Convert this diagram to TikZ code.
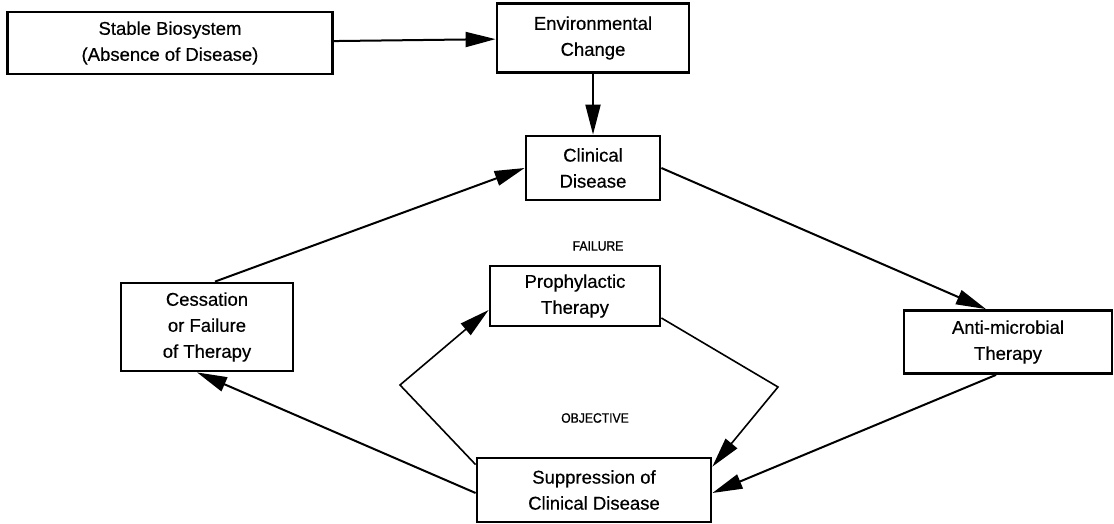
\documentclass[tikz,border=0pt]{standalone}
\usepackage{fontspec}
\setmainfont{Liberation Sans}[FakeBold=0.5]
\newfontfamily\labfont{Liberation Sans}[FakeStretch=0.9, FakeBold=0.9]
\usetikzlibrary{arrows.meta}
\tikzset{box/.style={draw, line width=2.8pt, align=center, inner sep=0pt, font=\fontsize{18.5}{26}\selectfont},
  lab/.style={draw=none, fill=none, font=\labfont\fontsize{13.5}{15}\selectfont},
  arr/.style={line width=2pt, -{Triangle[length=30pt, width=15pt]}}}

\begin{document}
\begin{tikzpicture}[x=1pt, y=-1pt]
  \useasboundingbox (0,0) rectangle (1114,524);

  \node (stable) [box, minimum width=325pt, minimum height=62pt] at (170, 43) {Stable Biosystem\\(Absence of Disease)};
  \node (env) [box, minimum width=192pt, minimum height=69pt] at (593, 38) {Environmental\\Change};
  \node (clin) [box, minimum width=134pt, minimum height=64pt] at (593, 168) {Clinical\\Disease};
  \node (cess) [box, minimum width=172pt, minimum height=88pt] at (207, 327) {Cessation\\or Failure\\of Therapy};
  \node (proph) [box, minimum width=170pt, minimum height=60pt] at (575, 296) {Prophylactic\\Therapy};
  \node (anti) [box, minimum width=208pt, minimum height=63pt] at (1008, 342) {Anti-microbial\\Therapy};
  \node (supp) [box, minimum width=234pt, minimum height=64pt] at (594, 490) {Suppression of\\Clinical Disease};

  \node (fail) [lab] at (598, 246) {FAILURE};
  \node (obj) [lab] at (595, 418) {OBJECTIVE};

  \coordinate (lbend) at (400, 385);
  \coordinate (rbend) at (778, 387);

  \draw (stable) edge [arr] (env);
  \draw (env) edge [arr] (clin);
  \draw ([xshift=8pt]cess.north) edge [arr] (clin.west);
  \draw (clin.east) edge [arr] ([xshift=-22pt]anti.north);
  \draw ([xshift=-12pt]anti.south) edge [arr] ([yshift=-3pt]supp.east);
  \draw ([yshift=-3pt]supp.west) edge [arr] ([xshift=-10pt]cess.south);
  \draw [line width=1.6pt, -{Triangle[length=30pt, width=15pt]}] ([yshift=-8pt]supp.north west) -- (lbend) -- ([yshift=-14pt]proph.west);
  \draw [line width=1.6pt, -{Triangle[length=30pt, width=15pt]}] ([yshift=-22pt]proph.east) -- (rbend) -- ([yshift=-10pt]supp.north east);
\end{tikzpicture}
\end{document}
